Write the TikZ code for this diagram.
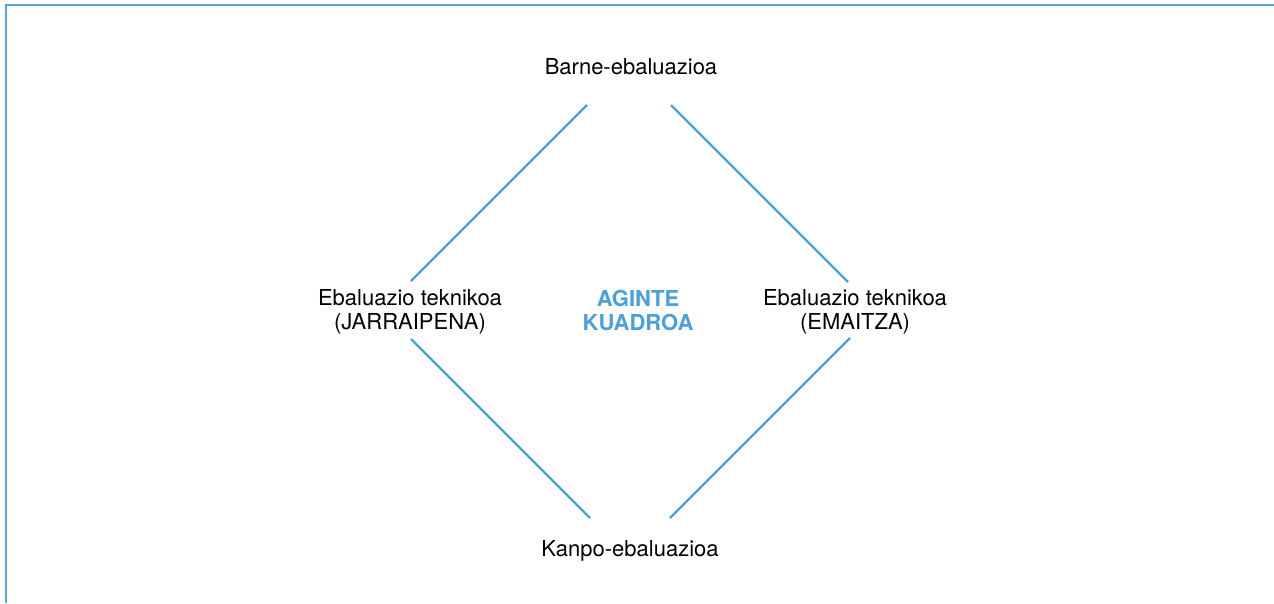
\documentclass[tikz,border=0pt]{standalone}
\usepackage{fontspec}
\setmainfont{TeX Gyre Heros}
\definecolor{lineblue}{RGB}{74,160,220}
\definecolor{frameblue}{RGB}{90,165,225}
\tikzset{
  lbl/.style={font=\fontsize{22}{24}\selectfont, align=center, inner sep=0pt, text=black},
  ttl/.style={font=\fontsize{22}{24}\selectfont\bfseries, align=center, inner sep=0pt, text=lineblue},
  conn/.style={draw=lineblue, line width=2.4pt},
  frame/.style={draw=frameblue, line width=2.4pt}
}
\begin{document}
\begin{tikzpicture}[x=1pt,y=-1pt]
\useasboundingbox (0,0) rectangle (1274,603);
\coordinate (fbl) at (6,603);
\coordinate (ftl) at (6,5);
\coordinate (ftr) at (1274,5);
\draw[frame] (fbl) -- (ftl) -- (ftr);

\node[lbl] (top) at (631,67) {Barne-ebaluazioa};
\node[lbl] (left) at (410,312) {Ebaluazio teknikoa\\(JARRAIPENA)};
\node[lbl] (right) at (855,312) {Ebaluazio teknikoa\\(EMAITZA)};
\node[ttl] (mid) at (638,310) {AGINTE\\KUADROA};
\node[lbl] (bot) at (630,551) {Kanpo-ebaluazioa};

\coordinate (a1) at (587,105);
\coordinate (a2) at (411,281);
\coordinate (b1) at (671,105);
\coordinate (b2) at (848,282);
\coordinate (c1) at (411,339);
\coordinate (c2) at (590,518);
\coordinate (d1) at (850,338);
\coordinate (d2) at (670,518);
\draw[conn] (a1) -- (a2);
\draw[conn] (b1) -- (b2);
\draw[conn] (c1) -- (c2);
\draw[conn] (d1) -- (d2);
\end{tikzpicture}
\end{document}
